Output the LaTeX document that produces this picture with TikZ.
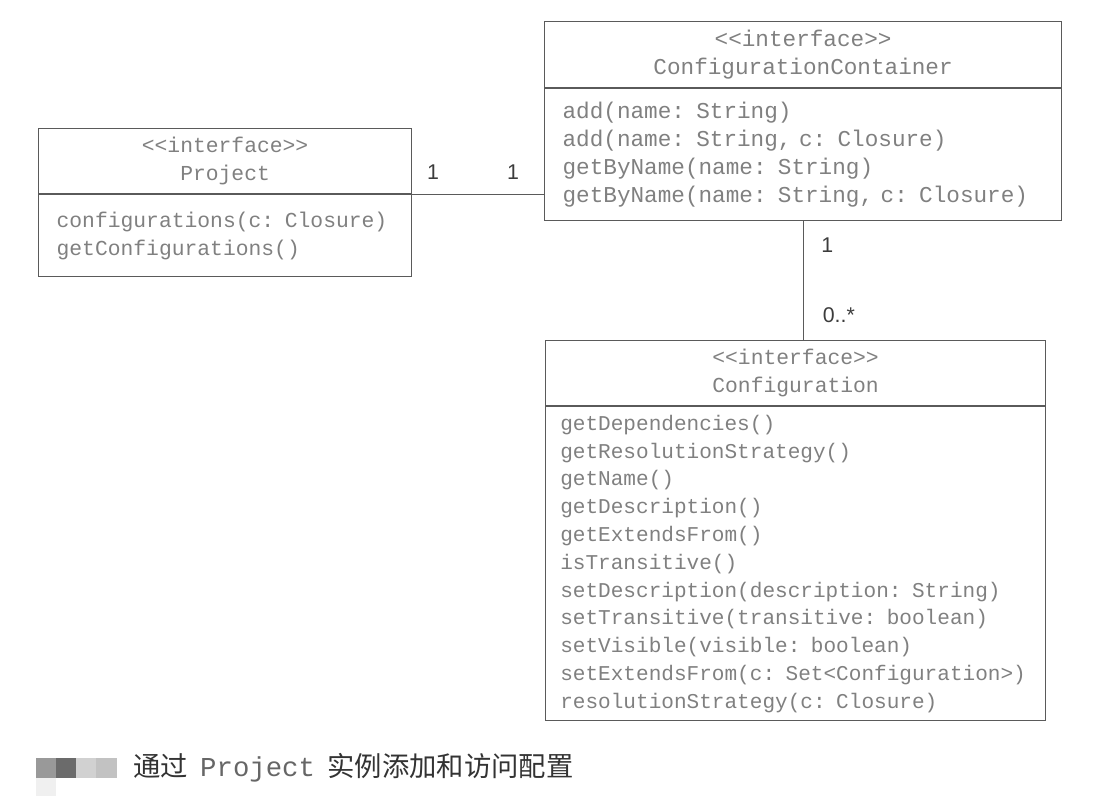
\documentclass[tikz,border=0pt]{standalone}
\usepackage{fontspec}
\setmonofont{Liberation Mono}
\setsansfont{Liberation Sans}
\newfontfamily\cjk{Noto Sans CJK SC}
\usepackage{tikz}
\usetikzlibrary{positioning}
\definecolor{linegray}{HTML}{5A5A5A}
\definecolor{textgray}{HTML}{808080}
\definecolor{multgray}{HTML}{3C3C3C}
\definecolor{capgray}{HTML}{333333}

\begin{document}
\begin{tikzpicture}[x=0.75pt,y=-0.75pt,
    header/.style={draw=linegray, line width=0.9pt, align=center, text=textgray, inner sep=0pt},
    methods/.style={draw=linegray, line width=0.9pt, align=left, text=textgray, inner xsep=13.5pt, inner ysep=0pt},
    small/.style={font=\ttfamily\fontsize{16}{21}\selectfont},
    large/.style={font=\ttfamily\fontsize{17}{21}\selectfont},
    tight/.style={font=\ttfamily\fontsize{15.8}{20.85}\selectfont},
    assoc/.style={draw=linegray, line width=0.9pt},
    mult/.style={font=\sffamily\fontsize{16}{19}\selectfont, text=multgray, inner sep=0pt}]
    \useasboundingbox (0,0) rectangle (1106,796);

    %Project
    \node[header, small, anchor=north west, minimum width=279.75pt, minimum height=48.75pt] (projHead) at (38,128)
        {<<interface>>\\Project};
    \node[methods, small, below=0pt of projHead, text width=252.75pt, minimum height=61.5pt] (projBody)
        {configurations(c: Closure)\\getConfigurations()};

    %ConfigurationContainer
    \node[header, large, anchor=north west, minimum width=387.75pt, minimum height=49.5pt] (contHead) at (544,21)
        {<<interface>>\\ConfigurationContainer};
    \node[methods, large, below=0pt of contHead, text width=360.75pt, minimum height=99pt] (contBody)
        {add(name: String)\\add(name: String, c: Closure)\\getByName(name: String)\\getByName(name: String, c: Closure)};

    %Configuration
    \node[header, small, anchor=north west, minimum width=375pt, minimum height=48.75pt] (confHead) at (545,340)
        {<<interface>>\\Configuration};
    \node[methods, tight, below=0pt of confHead, inner xsep=11pt, text width=353pt, minimum height=235.5pt] (confBody)
        {getDependencies()\\getResolutionStrategy()\\getName()\\getDescription()\\getExtendsFrom()\\isTransitive()\\
         setDescription(description: String)\\setTransitive(transitive: boolean)\\setVisible(visible: boolean)\\
         setExtendsFrom(c: Set<Configuration>)\\resolutionStrategy(c: Closure)};

    %Associations
    \draw[assoc] (projHead.south east) -- (projHead.south east -| contBody.west) coordinate (lineEnd);
    \node[mult, above right=11pt and 11pt of projHead.south east] (projMult) {1};
    \node[mult, above left=11pt and 18.5pt of lineEnd] (contMult) {1};
    \draw[assoc] (contBody.south) -- (contBody.south |- confHead.north) coordinate (lineBot);
    \node[mult, below right=12pt and 13.5pt of contBody.south] (ownMult) {1};
    \node[mult, above right=12.75pt and 14.6pt of lineBot] (manyMult) {0..*};

    %Caption
    \fill[black!6] (36,778) rectangle (56,796);
    \fill[black!40] (36,758) rectangle (56,778);
    \fill[black!58] (56,758) rectangle (76,778);
    \fill[black!18] (76,758) rectangle (96,778);
    \fill[black!24] (96,758) rectangle (117,778);
    \node[anchor=west, inner sep=0pt, text=capgray, font=\fontsize{20.5}{24}\selectfont] (caption) at (133,768)
        {\cjk 通过\hspace{0.45em}{\ttfamily\color{black!60}Project}\hspace{0.45em}实例添加和访问配置};
\end{tikzpicture}
\end{document}
